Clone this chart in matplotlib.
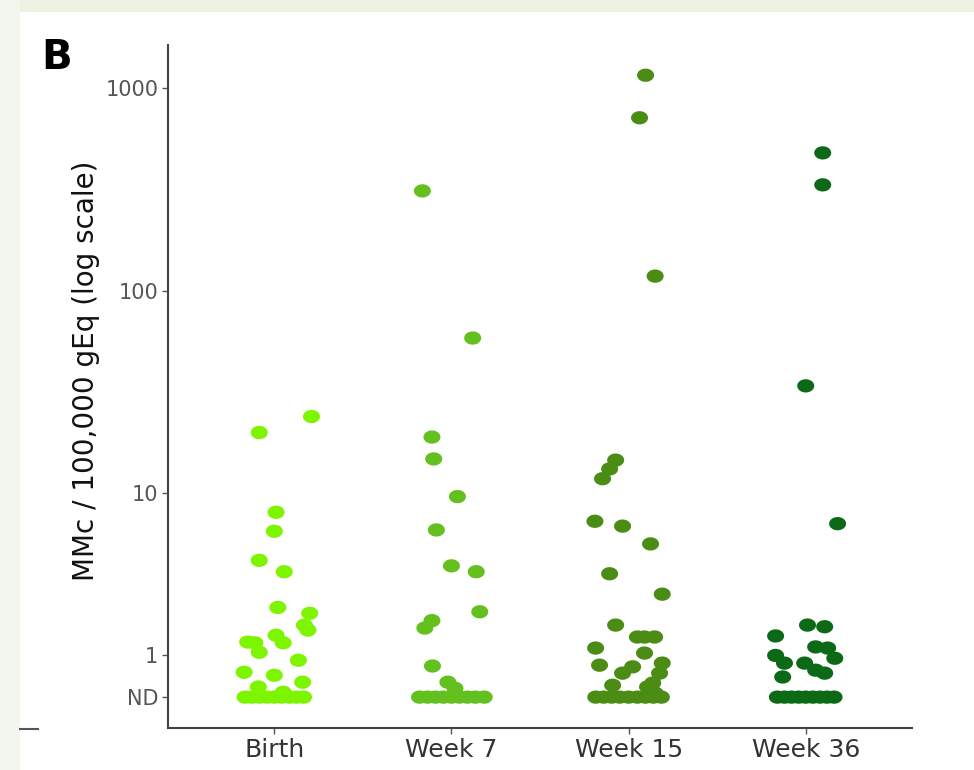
import numpy as np
import matplotlib
matplotlib.use("Agg")
import matplotlib.pyplot as plt
from matplotlib.path import Path
from matplotlib.lines import Line2D
from matplotlib.patches import Rectangle

plt.rcParams['font.family'] = ['DejaVu Sans']

categories = ["Birth", "Week 7", "Week 15", "Week 36"]
colors = ["#7DF500", "#63C01E", "#4A8C14", "#0C6A16"]

# values (0 = ND) and horizontal jitter offsets (category units)
birth_vals = [20, 24, 8.0, 6.4, 4.5, 3.9, 2.4, 2.2, 1.82, 1.67, 1.33, 1.31, 1.06, 1.52, 1.31,
              0.86, 0.57, 0.50, 0.34, 0.23, 0.11, 0, 0, 0, 0, 0, 0, 0, 0, 0]
birth_jit = [-0.085, 0.21, 0.01, 0.0, -0.085, 0.056, 0.02, 0.2, 0.17, 0.19, -0.15, -0.11, -0.085, 0.01, 0.05,
             0.136, -0.17, 0.0, 0.16, -0.09, 0.05, -0.165, -0.125, -0.085, -0.04, 0.0, 0.04, 0.085, 0.125, 0.165]

week7_vals = [310, 58.5, 19, 14.8, 9.6, 6.5, 4.2, 3.9, 2.25, 1.96, 1.73, 0.72, 0.34, 0.2,
              0, 0, 0, 0, 0, 0, 0, 0, 0]
week7_jit = [-0.164, 0.12, -0.11, -0.10, 0.034, -0.085, 0.0, 0.14, 0.16, -0.11, -0.15, -0.107, -0.02, 0.02,
             -0.18, -0.135, -0.09, -0.045, 0.0, 0.045, 0.09, 0.135, 0.185]

week15_vals = [1150, 710, 118, 14.6, 13.2, 11.8, 7.2, 6.8, 5.5, 3.8, 2.9, 1.82, 1.47, 1.47, 1.47,
               1.04, 1.17, 0.74, 0.55, 0.70, 0.79, 0.55, 0.32, 0.27, 0.23, 0.09,
               0, 0, 0, 0, 0, 0, 0, 0, 0]
week15_jit = [0.096, 0.062, 0.15, -0.073, -0.107, -0.147, -0.19, -0.034, 0.124, -0.107, 0.19, -0.073, 0.05, 0.09, 0.147,
              0.09, -0.186, -0.164, -0.034, 0.023, 0.19, 0.175, 0.136, -0.09, 0.107, 0.15,
              -0.185, -0.14, -0.095, -0.05, 0.0, 0.05, 0.095, 0.14, 0.185]

week36_vals = [477, 332, 34, 7.0, 1.82, 1.77, 1.50, 1.20, 1.17, 0.91, 0.98, 0.79, 0.79, 0.62, 0.55, 0.46,
               0, 0, 0, 0, 0, 0, 0, 0, 0]
week36_jit = [0.096, 0.096, 0.0, 0.18, 0.01, 0.107, -0.17, 0.056, 0.124, 0.164, -0.17, -0.12, -0.006, 0.056, 0.107, -0.13,
              -0.16, -0.12, -0.08, -0.04, 0.0, 0.04, 0.08, 0.12, 0.16]

groups = [(birth_vals, birth_jit), (week7_vals, week7_jit), (week15_vals, week15_jit), (week36_vals, week36_jit)]

ytick_vals = [0, 1, 10, 100, 1000]
ytick_labels = ["ND", "1", "10", "100", "1000"]

W, H = 974, 770
fig = plt.figure(figsize=(W / 100, H / 100), dpi=100)
fig.patch.set_facecolor("white")

# faint frame strips of the slide
fig.add_artist(Rectangle((0, 1 - 12 / H), 1, 12 / H, transform=fig.transFigure,
                         facecolor="#EEF2E2", edgecolor="none", zorder=0))
fig.add_artist(Rectangle((0, 0), 20 / W, 1, transform=fig.transFigure,
                         facecolor="#F3F5EF", edgecolor="none", zorder=0))
fig.add_artist(Line2D([20 / W, 38 / W], [1 - 729 / H, 1 - 729 / H], transform=fig.transFigure,
                      color="#555555", lw=1.5))

ax = fig.add_axes([168 / W, 1 - 728 / H, (912 - 168) / W, (728 - 45) / H])
ax.set_yscale("function", functions=(lambda v: np.arcsinh(np.asarray(v) / 2.0),
                                     lambda t: 2.0 * np.sinh(np.asarray(t))))

t = np.linspace(0, 2 * np.pi, 60)
ell = Path(np.column_stack([np.cos(t), 0.78 * np.sin(t)]))

for i, ((vals, jit), col) in enumerate(zip(groups, colors)):
    x = np.arange(1, 5)[i] + np.asarray(jit)
    ax.scatter(x, vals, s=150, marker=ell, color=col, edgecolors="none", zorder=3)

ax.set_xlim(0.4, 4.6)
ax.set_ylim(2 * np.sinh(-0.35), 2 * np.sinh(7.39))
ax.set_xticks([1, 2, 3, 4])
ax.set_xticklabels(categories, fontsize=18, color="#333333")
ax.set_yticks(ytick_vals)
ax.set_yticklabels(ytick_labels, fontsize=15, color="#555555")
ax.yaxis.set_minor_locator(matplotlib.ticker.NullLocator())
ax.tick_params(axis="both", length=4, width=1, color="#555555", pad=3)
for s in ["top", "right"]:
    ax.spines[s].set_visible(False)
for s in ["left", "bottom"]:
    ax.spines[s].set_color("#444444")
    ax.spines[s].set_linewidth(1.5)
ax.set_ylabel("MMc / 100,000 gEq (log scale)", fontsize=20, color="#111111")
ax.yaxis.set_label_coords(-0.0914, 0.523)

fig.text(41 / W, 1 - 58 / H, "B", fontsize=29, fontweight="bold", color="black", va="center", ha="left")

fig.savefig("out.png", dpi=100)
